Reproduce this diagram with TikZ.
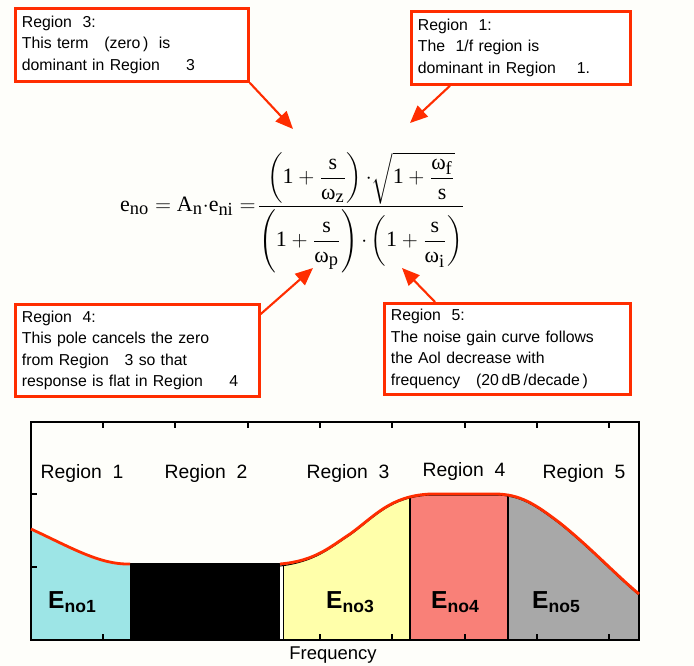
\documentclass[tikz,border=0pt]{standalone}
\usepackage{amsmath}
\usepackage[no-math]{fontspec}
\setmainfont{Liberation Sans}
\newfontfamily\eqfont{Liberation Serif}
\usetikzlibrary{positioning,arrows.meta,calc}
\DeclareMathSizes{12.5}{12.5}{10.5}{9}

\definecolor{callred}{RGB}{255,45,0}
\definecolor{pagebg}{RGB}{254,254,250}
\definecolor{cyanfill}{RGB}{157,229,230}
\definecolor{yellowfill}{RGB}{255,255,170}
\definecolor{salmonfill}{RGB}{249,128,120}
\definecolor{grayfill}{RGB}{168,168,168}

\newcommand{\tx}[1]{\text{\eqfont #1}}
\newcommand{\ifr}[2]{\dfrac{#1\rule[-3pt]{0pt}{3pt}}{\rule{0pt}{10.5pt}#2}}
\newcommand{\Eno}[1]{{\bfseries\fontsize{14}{14}\selectfont E\raisebox{-0.35ex}{\fontsize{10}{10}\selectfont no#1}}}

\tikzset{
  callout/.style={draw=callred, line width=1.6pt, fill=white, anchor=north west,
    align=left, inner xsep=0.12cm, font=\fontsize{9}{12.3}\selectfont},
  pointer/.style={callred, line width=1.2pt, -{Triangle[length=10pt,width=8.5pt]}},
  eqn/.style={inner sep=0pt, font=\fontsize{12.5}{15}\selectfont},
  reglabel/.style={anchor=base, font=\fontsize{11}{13}\selectfont},
}

\begin{document}
\begin{tikzpicture}[x=0.02cm, y=-0.02cm]
% Page
\fill[pagebg] (0,0) rectangle (694,666);
\useasboundingbox (0,0) rectangle (694,666);
% Formula
\node[eqn, anchor=base east] (lhs) at (256,211)
  {$\tx{e}_{\tx{no}} = \tx{A}_{\tx{n}}{\cdot}\tx{e}_{\tx{ni}} =$};
\node[eqn, anchor=base] (frac) at (361,212)
  {$\dfrac{\left(\tx{1}+\ifr{\tx{s}}{\tx{ω}_{\tx{z}}}\right){\cdot}\sqrt{\tx{1}+\ifr{\tx{ω}_{\tx{f}}}{\tx{s}}}}
          {\left(\tx{1}+\ifr{\tx{s}}{\tx{ω}_{\tx{p}}}\right){\cdot}\left(\tx{1}+\ifr{\tx{s}}{\tx{ω}_{\tx{i}}}\right)}$};
% Callouts
\node[callout, minimum width=4.66cm, text width=4.40cm, minimum height=1.46cm] (note3) at (14,7)
  {Region~~3:\\This term\quad(zero\,)\ \ is\\dominant in Region\quad\ \ 3};
\node[callout, minimum width=4.38cm, text width=4.12cm, minimum height=1.46cm] (note1) at (410,10)
  {Region~~1:\\The~~1/f region is\\dominant in Region\quad\ 1.};
\node[callout, minimum width=4.88cm, text width=4.62cm, minimum height=1.84cm] (note4) at (14,303)
  {Region~~4:\\This pole cancels the zero\\from Region\quad 3~so that\\response is flat in Region\quad\ \ 4};
\node[callout, minimum width=4.92cm, text width=4.66cm, minimum height=1.82cm] (note5) at (383,302)
  {Region~~5:\\The noise gain curve follows\\the Aol decrease with\\frequency\quad(20\,dB\,/decade\,)};
\coordinate (tip3) at (293,129);
\coordinate (tip1) at (410,123);
\coordinate (tip4) at (313,268);
\coordinate (tip5) at (402,268);
\draw[pointer] (note3.south east) -- (tip3);
\draw[pointer] ($(note1.south west)+(40,0)$) -- (tip1);
\draw[pointer] ($(note4.north east)+(0,11)$) -- (tip4);
\draw[pointer] ($(note5.north west)+(52,0)$) -- (tip5);
% Noise regions
\def\curvetail{.. controls (315,562) and (330,548) .. (350,535)
  .. controls (375,517) and (390,497) .. (430,495) -- (495,495)
  .. controls (520,495) and (535,505) .. (560,524)
  .. controls (590,548) and (615,575) .. (639,595)}
\fill[cyanfill] (31,640) -- (31,530) .. controls (70,548) and (100,566) .. (130,565) -- (130,640) -- cycle;
\fill[black] (130,563) rectangle (280,640);
\begin{scope}
  \clip (280,640) -- (280,565) \curvetail -- (639,640) -- cycle;
  \fill[yellowfill] (284,400) rectangle (410,640);
  \fill[salmonfill] (410,400) rectangle (508,640);
  \fill[grayfill] (508,400) rectangle (639,640);
  \foreach \px in {283.5,410,508} {
    \draw[line width=0.6pt] (\px,640) -- (\px,400);
  }
\end{scope}
% Frame and ticks
\draw[line width=0.9pt] (31,422) rectangle (639,640);
\foreach \px in {103,175,248,320,392,465,537,609} {
  \draw[line width=0.9pt] (\px,422) -- (\px,428);
  \draw[line width=0.9pt] (\px,640) -- (\px,634);
}
\foreach \py in {494,567} {
  \draw[line width=0.9pt] (31,\py) -- (37,\py);
}
% Curve
\draw[line width=0.6pt] (280,566) \curvetail;
\draw[callred, line width=1.6pt, yshift=0.02cm] (31,530) .. controls (70,548) and (100,566) .. (130,565);
\draw[callred, line width=1.6pt, yshift=0.02cm] (280,565) \curvetail;
% Labels
\node[reglabel] (reg1) at (82,478) {Region~~1};
\node[reglabel] (reg2) at (206,478) {Region~~2};
\node[reglabel] (reg3) at (348,478) {Region~~3};
\node[reglabel] (reg4) at (464,476) {Region~~4};
\node[reglabel] (reg5) at (584,478) {Region~~5};
\node[anchor=base] (eno1) at (72,608) {\Eno{1}};
\node[anchor=base] (eno3) at (350,608) {\Eno{3}};
\node[anchor=base] (eno4) at (455,608) {\Eno{4}};
\node[anchor=base] (eno5) at (556,608) {\Eno{5}};
\node[anchor=base, font=\fontsize{10.5}{12}\selectfont] (freq) at (333,659) {Frequency};
\end{tikzpicture}
\end{document}
